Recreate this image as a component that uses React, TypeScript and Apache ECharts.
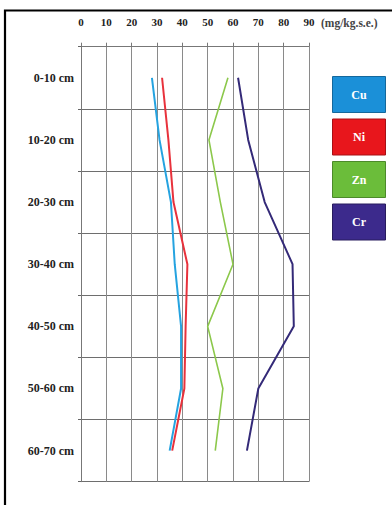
import React, { useEffect, useRef } from "react";
import * as echarts from "echarts";

// Soil depth intervals, top to bottom
const depths = ["0-10 cm", "10-20 cm", "20-30 cm", "30-40 cm", "40-50 cm", "50-60 cm", "60-70 cm"];

// Metal concentrations per depth interval (mg/kg)
const cuValues = [28, 31, 35.5, 37, 39.5, 39.5, 35];
const niValues = [32, 34.5, 36.5, 42, 41.3, 40.8, 36];
const znValues = [58, 50.5, 55, 60, 50, 56, 53];
const crValues = [62, 66, 72.5, 83.5, 84, 70, 65.5];

const metalNames = ["Cu", "Ni", "Zn", "Cr"];
const metalValues = [cuValues, niValues, znValues, crValues];
const lineColors = ["#25a3e0", "#e8323c", "#8cc84b", "#342a78"];
const lineWidths = [2, 2, 1.6, 2];
const boxColors = ["#1b90d8", "#e8161c", "#6bbd3a", "#3c2a8c"];
const boxBorders = ["#14689c", "#a81015", "#4c8a2a", "#281c5e"];

const unitLabel = "(mg/kg.s.e.)";
const valueMin = 0;
const valueMax = 90;
const valueStep = 10;

const FONT = "'Liberation Serif', 'DejaVu Serif', serif";

export default function App() {
  const ref = useRef<HTMLDivElement>(null);

  useEffect(() => {
    if (!ref.current) return;
    const chart = echarts.init(ref.current, undefined, { renderer: "svg" });

    const legendX = 332;
    const legendY = 76;
    const boxW = 53;
    const boxH = 36;
    const boxPitch = 42.5;

    const legendBoxes = metalNames.map((name, i) => ({
      type: "group",
      left: legendX,
      top: legendY + i * boxPitch,
      children: [
        {
          type: "rect",
          shape: { x: 0, y: 0, width: boxW, height: boxH },
          style: { fill: boxColors[i], stroke: boxBorders[i], lineWidth: 1 },
        },
        {
          type: "text",
          x: boxW / 2,
          y: boxH / 2,
          style: {
            text: name,
            fill: "#ffffff",
            font: `bold 12px ${FONT}`,
            align: "center",
            verticalAlign: "middle",
          },
        },
      ],
    }));

    chart.setOption({
      animation: false,
      backgroundColor: "#ffffff",
      grid: { left: 81, right: 83, top: 46.7, bottom: 23.3, containLabel: false },
      xAxis: {
        type: "value",
        position: "top",
        min: valueMin,
        max: valueMax,
        interval: valueStep,
        axisLine: { show: true, lineStyle: { color: "#777", width: 1 } },
        axisTick: { show: true, inside: false, length: 4, lineStyle: { color: "#777" } },
        axisLabel: {
          margin: 19,
          color: "#222",
          fontFamily: FONT,
          fontWeight: "bold",
          fontSize: 11,
        },
        splitLine: { show: true, lineStyle: { color: "#8a8a8a", width: 1 } },
      },
      yAxis: {
        type: "category",
        data: depths,
        inverse: true,
        boundaryGap: true,
        axisLine: { show: true, lineStyle: { color: "#777", width: 1 } },
        axisTick: { show: true, inside: false, length: 3, lineStyle: { color: "#666" } },
        axisLabel: {
          margin: 7,
          color: "#222",
          fontFamily: FONT,
          fontWeight: "bold",
          fontSize: 12,
        },
        splitLine: { show: true, lineStyle: { color: "#6e6e6e", width: 1 } },
      },
      series: metalNames.map((name, i) => ({
        name,
        type: "line",
        data: metalValues[i],
        symbol: "none",
        lineStyle: { color: lineColors[i], width: lineWidths[i] },
        z: 3,
      })),
      graphic: [
        {
          type: "rect",
          shape: { x: 5, y: 10.5, width: 400, height: 500 },
          style: { fill: "none", stroke: "#000", lineWidth: 2.2 },
          silent: true,
        },
        {
          type: "text",
          left: 321,
          top: 16.5,
          style: {
            text: unitLabel,
            fill: "#444",
            font: `bold 11.5px ${FONT}`,
          },
        },
        ...legendBoxes,
      ],
    });

    return () => chart.dispose();
  }, []);

  return (
    <div
      ref={ref}
      style={{ position: "fixed", left: 0, top: 0, width: 392, height: 505, background: "#fff" }}
    />
  );
}
